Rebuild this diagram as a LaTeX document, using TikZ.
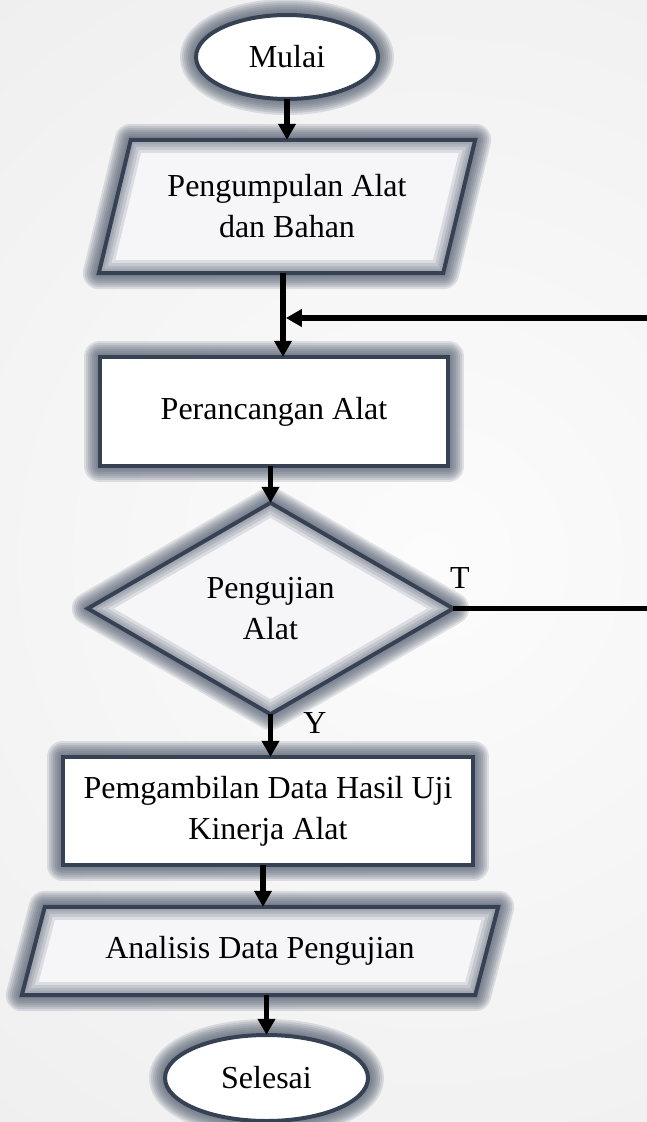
\documentclass[tikz,border=0pt]{standalone}
\usepackage{fontspec}
\setmainfont{Liberation Serif}
\usetikzlibrary{arrows.meta,calc}
\definecolor{bordc}{RGB}{55,65,84}
\definecolor{glowc}{RGB}{84,94,112}
\definecolor{bgin}{RGB}{252,252,252}
\definecolor{bgout}{RGB}{232,232,233}
\definecolor{pfill}{RGB}{246,246,248}
\pgfdeclarelayer{back}
\pgfdeclarelayer{shapes}
\pgfsetlayers{back,shapes,main}
\newcommand\outerglow[1]{%
  \foreach \w in {32,28,24,20,16,12,8}{\draw[glowc, line width=\w pt, opacity=0.17, line join=round] #1;}}
\newcommand\innerglow[1]{%
  \begin{scope}\clip #1;
  \foreach \w in {26,20,14,9}{\draw[glowc, line width=\w pt, opacity=0.16, line join=round] #1;}
  \end{scope}}
\tikzset{
  lbl/.style={font=\fontsize{32}{41}\selectfont, align=center, inner sep=0pt, text=black},
  box/.style={lbl, rectangle},
  arr/.style={draw=black, line width=5.8pt, -{Triangle[length=16pt,width=17pt]}},
  conn/.style={draw=black, line width=5.5pt},
  bord/.style={draw=bordc, line width=4pt},
}
\begin{document}
\begin{tikzpicture}[x=1pt,y=-1pt]
\useasboundingbox (0,0) rectangle (647,1122);
% nodes
\node[box, minimum width=182pt, minimum height=84pt] (start) at (287,57) {Mulai};
\node[box, minimum width=344pt, minimum height=133pt] (pA) at (287,206.5) {Pengumpulan Alat\\dan Bahan};
\node[box, minimum width=348pt, minimum height=109pt] (perc) at (274,411.5) {Perancangan Alat};
\node[box, minimum width=365pt, minimum height=211pt] (dia) at (270.5,608.5) {Pengujian\\Alat};
\node[box, minimum width=410pt, minimum height=108pt] (pem) at (268,811) {Pemgambilan Data Hasil Uji\\Kinerja Alat};
\node[box, minimum width=453pt, minimum height=88pt] (ana) at (260,951) {Analisis Data Pengujian};
\node[box, minimum width=203pt, minimum height=86pt] (end) at (266.5,1078) {Selesai};
\node[lbl] (tlab) at (460,578) {T};
\node[lbl] (ylab) at (315,723) {Y};
\coordinate (fbR) at (647,318);
\coordinate (tR) at (647,608.5);
\coordinate (jn) at ($(pA.south)+(-4,0)$);

% background
\begin{pgfonlayer}{back}
\fill[bgout] (0,0) rectangle (647,1122);
\begin{scope}
\clip (0,0) rectangle (647,1122);
\shade[inner color=bgin, outer color=bgout] (430,560) circle (1100);
\end{scope}
\end{pgfonlayer}

% shapes
\begin{pgfonlayer}{shapes}
% Mulai
\outerglow{(start.center) ellipse (91 and 42)}
\fill[white] (start.center) ellipse (91 and 42);
\draw[bord] (start.center) ellipse (91 and 42);
% Pengumpulan
\outerglow{([xshift=16pt]pA.north west) -- ([xshift=16pt]pA.north east) -- ([xshift=-16pt]pA.south east) -- ([xshift=-16pt]pA.south west) -- cycle}
\fill[pfill] ([xshift=16pt]pA.north west) -- ([xshift=16pt]pA.north east) -- ([xshift=-16pt]pA.south east) -- ([xshift=-16pt]pA.south west) -- cycle;
\innerglow{([xshift=16pt]pA.north west) -- ([xshift=16pt]pA.north east) -- ([xshift=-16pt]pA.south east) -- ([xshift=-16pt]pA.south west) -- cycle}
\draw[bord] ([xshift=16pt]pA.north west) -- ([xshift=16pt]pA.north east) -- ([xshift=-16pt]pA.south east) -- ([xshift=-16pt]pA.south west) -- cycle;
% Perancangan
\outerglow{(perc.north west) rectangle (perc.south east)}
\fill[white] (perc.north west) rectangle (perc.south east);
\draw[bord] (perc.north west) rectangle (perc.south east);
% Pengujian
\outerglow{(dia.west) -- (dia.north) -- (dia.east) -- (dia.south) -- cycle}
\fill[pfill] (dia.west) -- (dia.north) -- (dia.east) -- (dia.south) -- cycle;
\innerglow{(dia.west) -- (dia.north) -- (dia.east) -- (dia.south) -- cycle}
\draw[bord] (dia.west) -- (dia.north) -- (dia.east) -- (dia.south) -- cycle;
% Pemgambilan
\outerglow{(pem.north west) rectangle (pem.south east)}
\fill[white] (pem.north west) rectangle (pem.south east);
\draw[bord] (pem.north west) rectangle (pem.south east);
% Analisis
\outerglow{([xshift=11.5pt]ana.north west) -- ([xshift=11.5pt]ana.north east) -- ([xshift=-11.5pt]ana.south east) -- ([xshift=-11.5pt]ana.south west) -- cycle}
\fill[pfill] ([xshift=11.5pt]ana.north west) -- ([xshift=11.5pt]ana.north east) -- ([xshift=-11.5pt]ana.south east) -- ([xshift=-11.5pt]ana.south west) -- cycle;
\innerglow{([xshift=11.5pt]ana.north west) -- ([xshift=11.5pt]ana.north east) -- ([xshift=-11.5pt]ana.south east) -- ([xshift=-11.5pt]ana.south west) -- cycle}
\draw[bord] ([xshift=11.5pt]ana.north west) -- ([xshift=11.5pt]ana.north east) -- ([xshift=-11.5pt]ana.south east) -- ([xshift=-11.5pt]ana.south west) -- cycle;
% Selesai
\outerglow{(end.center) ellipse (101.5 and 43)}
\fill[white] (end.center) ellipse (101.5 and 43);
\draw[bord] (end.center) ellipse (101.5 and 43);
\end{pgfonlayer}

% connectors
\draw[arr] (start.south) -- (pA.north);
\draw[arr] (jn) -- (jn |- perc.north);
\draw[arr] (fbR) -- ([xshift=2.9pt]jn |- fbR);
\draw[arr] (perc.south -| dia.north) -- (dia.north);
\draw[conn] (dia.east) -- (tR);
\draw[arr] (dia.south) -- (dia.south |- pem.north);
\draw[arr] ([xshift=-5pt]pem.south) -- ([xshift=-5pt]pem.south |- ana.north);
\draw[arr] (ana.south -| end.north) -- (end.north);
\end{tikzpicture}
\end{document}
